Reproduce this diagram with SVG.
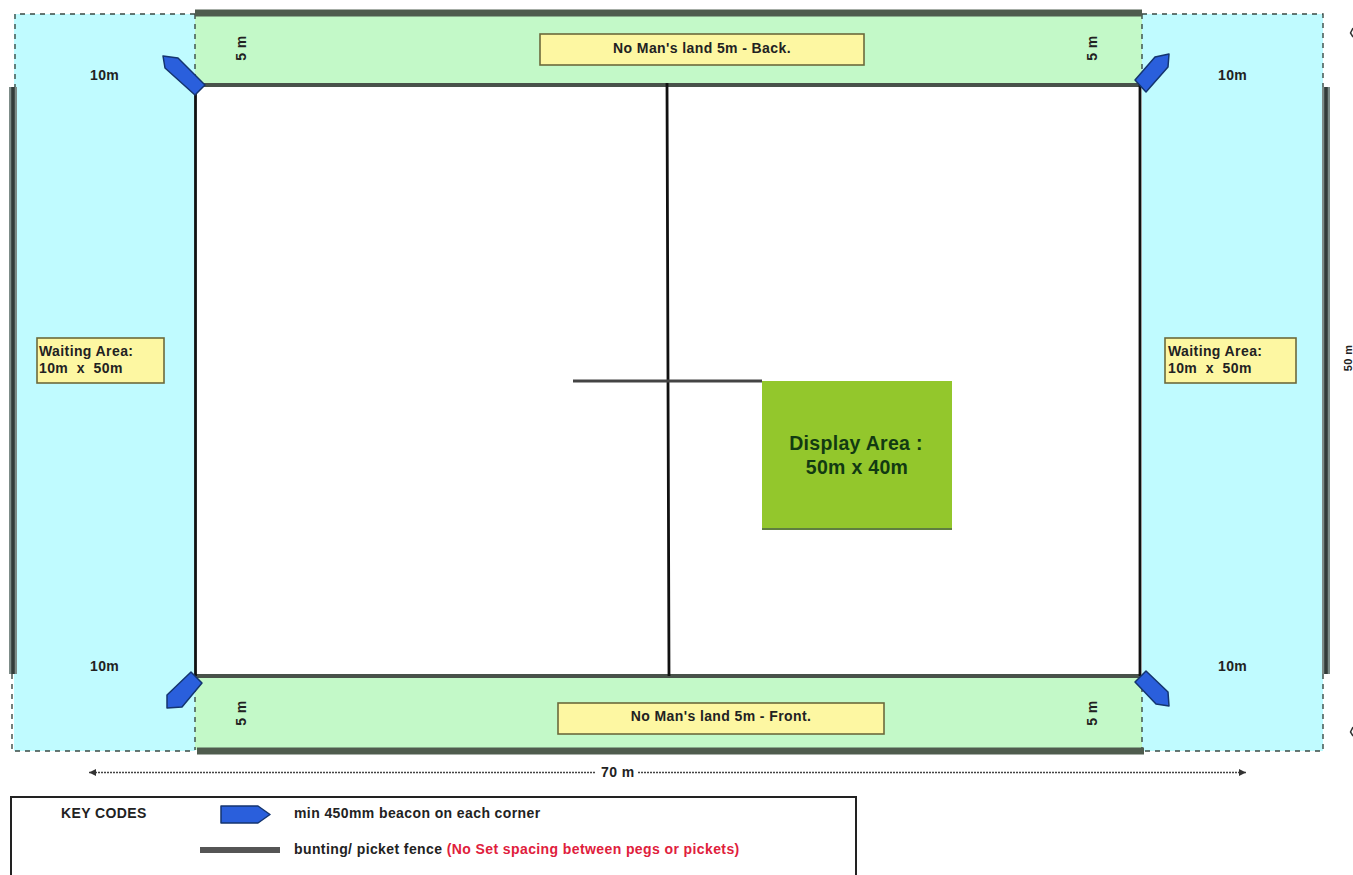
<svg xmlns="http://www.w3.org/2000/svg" width="1353" height="875" viewBox="0 0 1353 875">
<style>
text{font-family:"Liberation Sans",Arial,sans-serif;font-weight:bold;fill:#222;font-size:14px;letter-spacing:.4px}
.disp{font-size:19.5px;letter-spacing:.3px;fill:#123a12}
.zone{stroke:#3a4a44;stroke-width:1.400;stroke-dasharray:5 5;fill:none}
.fence{stroke:#4f5c4e;stroke-width:7;fill:none}
.inner{stroke:#48524a;stroke-width:4;fill:none}
.post{stroke:#7d8c88;stroke-width:8;fill:none}
.core{stroke:#333c3a;stroke-width:3.500;fill:none}
.thin{stroke:#111;stroke-width:2.800;fill:none}
.label{fill:#fdf7a2;stroke:#6c6a3c;stroke-width:1.600}
.beacon{fill:#2a5fdc;stroke:#14356f;stroke-width:1.500;stroke-linejoin:round}
</style>
<defs>
<marker id="arr" markerWidth="8" markerHeight="8" refX="7" refY="4" orient="auto-start-reverse" markerUnits="userSpaceOnUse"><path d="M0 0.500L7 4 0 7.500Z" fill="#333"/></marker>
</defs>
<rect width="1353" height="875" fill="#fff"/>
<g id="waiting-left">
<rect x="14" y="14" width="181" height="737" fill="#c0fbff"/>
<path class="zone" d="M195 14H15V88M12 674V751H195"/>
<rect class="label" x="37" y="338" width="127" height="45"/>
<text x="39" y="356">Waiting Area:</text>
<text x="39" y="373" xml:space="preserve">10m  x  50m</text>
<text x="90" y="80">10m</text>
<text x="90" y="671">10m</text>
</g>
<g id="waiting-right">
<rect x="1142" y="14" width="181" height="737" fill="#c0fbff"/>
<path class="zone" d="M1142 14H1323V88M1323 674V751H1142"/>
<rect class="label" x="1165" y="338" width="131" height="45"/>
<text x="1168" y="356">Waiting Area:</text>
<text x="1168" y="373" xml:space="preserve">10m  x  50m</text>
<text x="1218" y="80">10m</text>
<text x="1218" y="671">10m</text>
</g>
<g id="no-mans-land-back">
<rect x="195" y="14" width="947" height="71" fill="#c3f9c8"/>
<path class="zone" d="M195 14V85M1142 14V85"/>
<rect class="label" x="540" y="34" width="324" height="31"/>
<text x="702" y="53" text-anchor="middle">No Man's land 5m - Back.</text>
<text transform="translate(246 48) rotate(-90)" text-anchor="middle">5 m</text>
<text transform="translate(1097 48) rotate(-90)" text-anchor="middle">5 m</text>
</g>
<g id="no-mans-land-front">
<rect x="195" y="677" width="947" height="73" fill="#c3f9c8"/>
<path class="zone" d="M195 677V750M1142 677V750"/>
<rect class="label" x="558" y="703" width="326" height="31"/>
<text x="721" y="721" text-anchor="middle">No Man's land 5m - Front.</text>
<text transform="translate(246 713) rotate(-90)" text-anchor="middle">5 m</text>
<text transform="translate(1097 713) rotate(-90)" text-anchor="middle">5 m</text>
</g>
<g id="display-area">
<rect x="762" y="381" width="190" height="148" fill="#93c72c"/>
<path d="M762 529H952" stroke="#5f7f40" stroke-width="2"/>
<text class="disp" x="856" y="450" text-anchor="middle">Display Area :</text>
<text class="disp" x="857" y="474" text-anchor="middle">50m x 40m</text>
</g>
<g id="connectors">
<path class="fence" d="M195 13H1142M197 751H1144"/>
<path class="inner" d="M196 85H1140M196 676H1140"/>
<path class="post" d="M13 87V674M1326 87V674"/>
<path class="core" d="M13 87V674M1326 87V674"/>
<path class="thin" d="M195.500 85V676M1140 85V676M667 83L669 676"/>
<path d="M573 381H762" stroke="#444" stroke-width="3"/>
<path d="M89 772.500H595M638 772.500H1246" stroke="#444" stroke-width="1.500" stroke-dasharray="2 1" marker-start="url(#arr)" marker-end="url(#arr)"/>
<text x="601" y="777">70 m</text>
</g>
<g id="beacon-tl"><path class="beacon" d="M163 56L178 58 205 85 195 95 165 68Z"/></g>
<g id="beacon-tr"><path class="beacon" d="M1169 54L1168 67 1146 92 1135 80 1155 57Z"/></g>
<g id="beacon-bl"><path class="beacon" d="M167 708L182 707 202 683 191 672 167 695Z"/></g>
<g id="beacon-br"><path class="beacon" d="M1169 706L1168 692 1146 671 1135 682 1156 704Z"/></g>
<g id="key">
<rect x="11" y="797" width="845" height="90" fill="#fff" stroke="#222" stroke-width="2"/>
<text x="61" y="818">KEY CODES</text>
<path class="beacon" d="M221 806H258L270 814.500 258 823H221Z"/>
<text x="294" y="818">min 450mm beacon on each corner</text>
<path d="M200 850H280" stroke="#555" stroke-width="6"/>
<text x="294" y="854">bunting/ picket fence <tspan style="fill:#e0203c">(No Set spacing between pegs or pickets)</tspan></text>
</g>
<g id="height-dim">
<text transform="translate(1352 358) rotate(-90)" text-anchor="middle" style="font-size:11px">50 m</text>
<path d="M1353 28L1350.500 33 1353 37M1353 727L1350.500 732 1353 736" stroke="#333" stroke-width="1.500" fill="none"/>
</g>
</svg>
